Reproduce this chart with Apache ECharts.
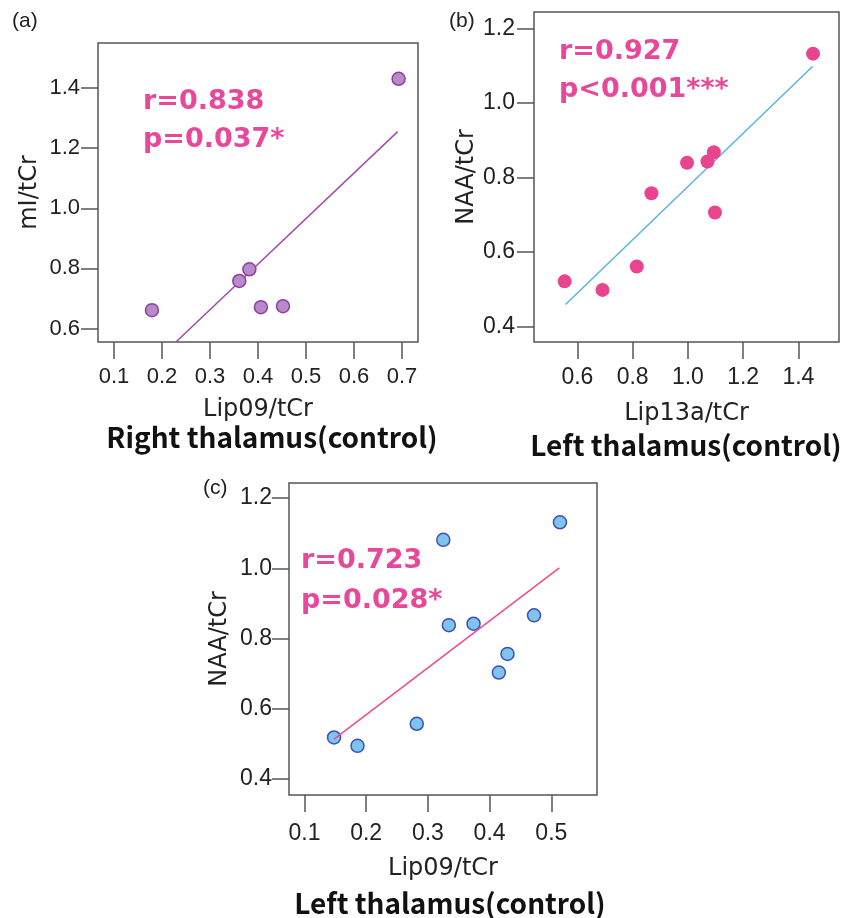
<!DOCTYPE html>
<html>
<head>
<meta charset="utf-8">
<script src="https://cdn.jsdelivr.net/npm/echarts@6/dist/echarts.min.js"></script>
<style>
html,body{margin:0;padding:0;background:#fff;}
#chart{width:841px;height:918px;}
</style>
</head>
<body>
<div id="chart"></div>
<script>
// Panel (a): Right thalamus (control), Lip09/tCr vs mI/tCr
const aX = [0.179, 0.361, 0.382, 0.406, 0.452, 0.693];
const aY = [0.661, 0.758, 0.797, 0.671, 0.674, 1.431];
const aFitX = [0.229, 0.691];
const aFitY = [0.555, 1.255];
const aXTicks = [0.1, 0.2, 0.3, 0.4, 0.5, 0.6, 0.7];
const aYTicks = [0.6, 0.8, 1.0, 1.2, 1.4];

// Panel (b): Left thalamus (control), Lip13a/tCr vs NAA/tCr
const bX = [0.554, 0.691, 0.815, 0.868, 0.997, 1.071, 1.094, 1.098, 1.453];
const bY = [0.521, 0.498, 0.561, 0.758, 0.840, 0.843, 0.868, 0.706, 1.133];
const bFitX = [0.557, 1.452];
const bFitY = [0.459, 1.099];
const bXTicks = [0.6, 0.8, 1.0, 1.2, 1.4];
const bYTicks = [0.4, 0.6, 0.8, 1.0, 1.2];

// Panel (c): Left thalamus (control), Lip09/tCr vs NAA/tCr
const cX = [0.148, 0.186, 0.282, 0.325, 0.334, 0.374, 0.415, 0.429, 0.472, 0.514];
const cY = [0.518, 0.494, 0.557, 1.081, 0.838, 0.842, 0.703, 0.756, 0.866, 1.131];
const cFitX = [0.148, 0.513];
const cFitY = [0.513, 1.001];
const cXTicks = [0.1, 0.2, 0.3, 0.4, 0.5];
const cYTicks = [0.4, 0.6, 0.8, 1.0, 1.2];

const zip = (xs, ys) => xs.map((x, i) => [x, ys[i]]);

const frameColor = '#555';
const tickFont = '"Liberation Sans", Arial, sans-serif';
const nameFont = '"DejaVu Sans", sans-serif';
const titleFont = '"Noto Sans CJK KR", sans-serif';
const pink = '#e8489a';

function axisCfg(idx, min, max, ticks, name, gap, fs, margin) {
  return {
    type: 'value', gridIndex: idx, min: min, max: max,
    name: name, nameLocation: 'middle', nameGap: gap,
    nameTextStyle: {fontFamily: nameFont, fontSize: 24, color: '#222'},
    axisLine: {show: false},
    axisTick: {show: true, inside: false, length: 17, customValues: ticks, lineStyle: {color: frameColor, width: 1.5}},
    axisLabel: {show: true, customValues: ticks, margin: margin, fontFamily: tickFont, fontSize: fs, color: '#222',
      formatter: v => v.toFixed(1)},
    splitLine: {show: false}
  };
}

const chart = echarts.init(document.getElementById('chart'), null, {renderer: 'canvas'});

const statStyle = (text, x, y) => ({
  type: 'text', left: x, top: y,
  style: {text: text, fontFamily: nameFont, fontWeight: 'bold', fontSize: 27, fill: pink, verticalAlign: 'top'}
});
const titleStyle = (text, cx, y) => ({
  type: 'text', x: cx, y: y,
  style: {text: text, fontFamily: titleFont, fontWeight: 'bold', fontSize: 28, fill: '#111',
    align: 'center', verticalAlign: 'middle'}
});
const panelLabel = (text, x, y) => ({
  type: 'text', x: x, y: y,
  style: {text: text, fontFamily: tickFont, fontSize: 21, fill: '#222', verticalAlign: 'middle'}
});

const option = {
  backgroundColor: '#fff',
  animation: false,
  grid: [
    {left: 98, top: 43, width: 320, height: 299, show: true, borderColor: frameColor, borderWidth: 1.5, backgroundColor: 'transparent'},
    {left: 534, top: 12, width: 305, height: 330, show: true, borderColor: frameColor, borderWidth: 1.5, backgroundColor: 'transparent'},
    {left: 289, top: 483, width: 308, height: 312, show: true, borderColor: frameColor, borderWidth: 1.5, backgroundColor: 'transparent'}
  ],
  xAxis: [
    axisCfg(0, 0.0666, 0.7334, aXTicks, 'Lip09/tCr', 56, 22, 24),
    axisCfg(1, 0.443, 1.547, bXTicks, 'Lip13a/tCr', 60, 23, 24),
    axisCfg(2, 0.075, 0.574, cXTicks, 'Lip09/tCr', 62, 23, 27)
  ],
  yAxis: [
    axisCfg(0, 0.555, 1.55, aYTicks, 'mI/tCr', 56, 22, 18),
    axisCfg(1, 0.358, 1.245, bYTicks, 'NAA/tCr', 55, 23, 19),
    axisCfg(2, 0.354, 1.243, cYTicks, 'NAA/tCr', 57, 23, 17)
  ],
  series: [
    {type: 'line', xAxisIndex: 0, yAxisIndex: 0, data: zip(aFitX, aFitY), symbol: 'none', clip: true,
      lineStyle: {color: '#a64aa8', width: 1.5}, z: 2},
    {type: 'scatter', xAxisIndex: 0, yAxisIndex: 0, data: zip(aX, aY), symbolSize: 13,
      itemStyle: {color: '#b98ac9', borderColor: '#8d3fa3', borderWidth: 1.5, opacity: 1}, z: 3},
    {type: 'line', xAxisIndex: 1, yAxisIndex: 1, data: zip(bFitX, bFitY), symbol: 'none', clip: true,
      lineStyle: {color: '#5bb2e2', width: 1.5}, z: 2},
    {type: 'scatter', xAxisIndex: 1, yAxisIndex: 1, data: zip(bX, bY), symbolSize: 14,
      itemStyle: {color: '#e8458e', borderWidth: 0, opacity: 1}, z: 3},
    {type: 'scatter', xAxisIndex: 2, yAxisIndex: 2, data: zip(cX, cY), symbolSize: 13,
      itemStyle: {color: '#7ec4ef', borderColor: '#3c50b4', borderWidth: 1.5, opacity: 1}, z: 2},
    {type: 'line', xAxisIndex: 2, yAxisIndex: 2, data: zip(cFitX, cFitY), symbol: 'none', clip: true,
      lineStyle: {color: '#ee4a8e', width: 1.5}, z: 3}
  ],
  graphic: [
    panelLabel('(a)', 12, 21),
    panelLabel('(b)', 449, 21),
    panelLabel('(c)', 203, 488),
    statStyle('r=0.838', 143, 88),
    statStyle('p=0.037*', 143, 126),
    statStyle('r=0.927', 559, 38),
    statStyle('p<0.001***', 559, 76),
    statStyle('r=0.723', 301, 547),
    statStyle('p=0.028*', 301, 587),
    titleStyle('Right thalamus(control)', 272, 437),
    titleStyle('Left thalamus(control)', 686, 445),
    titleStyle('Left thalamus(control)', 450, 903)
  ]
};
chart.setOption(option);
</script>
</body>
</html>
